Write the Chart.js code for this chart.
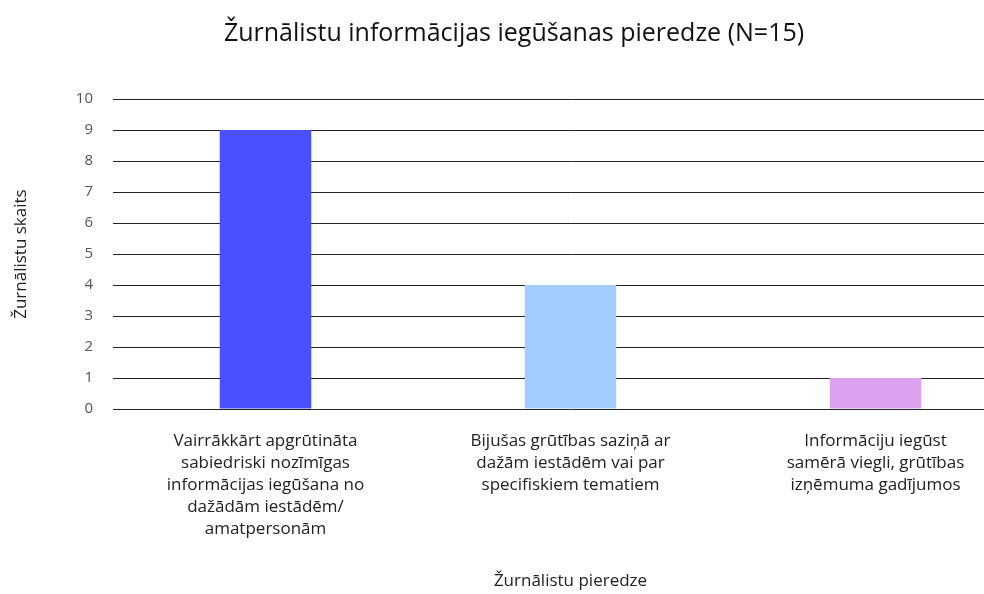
<!DOCTYPE html>
<html>
<head>
<meta charset="utf-8">
<script src="https://cdn.jsdelivr.net/npm/chart.js@4/dist/chart.umd.min.js"></script>
<style>
html, body { margin: 0; padding: 0; overflow: hidden; background: #fff; }
#wrap { position: relative; width: 1040px; height: 594px; }
</style>
</head>
<body>
<div id="wrap"><canvas id="c"></canvas></div>
<script>
const chartTitle = "Žurnālistu informācijas iegūšanas pieredze (N=15)";
const xAxisTitle = "Žurnālistu pieredze";
const yAxisTitle = "Žurnālistu skaits";
const categories = [
  ["Vairrākkārt apgrūtināta", "sabiedriski nozīmīgas", "informācijas iegūšana no", "dažādām iestādēm/", "amatpersonām"],
  ["Bijušas grūtības saziņā ar", "dažām iestādēm vai par", "specifiskiem tematiem"],
  ["Informāciju iegūst", "samērā viegli, grūtības", "izņēmuma gadījumos"]
];
const values = [9, 4, 1];
const barColors = ["#4a50ff", "#a4cdff", "#dca2ef"];
const yTicks = [0, 1, 2, 3, 4, 5, 6, 7, 8, 9, 10];

const FONT = "'Open Sans', Lato, sans-serif";

new Chart(document.getElementById('c'), {
  type: 'bar',
  data: {
    labels: categories,
    datasets: [{
      data: values,
      backgroundColor: barColors,
      borderWidth: 0,
      categoryPercentage: 1,
      barPercentage: 0.3
    }]
  },
  options: {
    responsive: true,
    maintainAspectRatio: false,
    animation: false,
    layout: { padding: { top: 0, right: 12, bottom: 3, left: 0 } },
    plugins: {
      legend: { display: false },
      tooltip: { enabled: false },
      title: {
        display: true,
        text: chartTitle,
        color: '#111',
        font: { family: FONT, size: 25, weight: 'normal', lineHeight: 1.2 },
        padding: { top: 19, bottom: 50 }
      }
    },
    scales: {
      x: {
        grid: { display: false },
        border: { display: false },
        ticks: {
          color: '#222',
          font: { family: FONT, size: 17, lineHeight: 1.3 },
          padding: 13,
          maxRotation: 0,
          autoSkip: false
        },
        title: {
          display: true,
          text: xAxisTitle,
          color: '#222',
          font: { family: FONT, size: 17 },
          padding: { top: 17, bottom: 0 }
        }
      },
      y: {
        min: 0,
        max: 10,
        afterFit: s => { s.width = 113; },
        afterBuildTicks: s => { s.ticks = yTicks.map(v => ({ value: v })); },
        grid: { color: '#222', lineWidth: 1, drawTicks: false },
        border: { display: false },
        ticks: {
          color: '#555',
          font: { family: FONT, size: 15 },
          padding: 20
        },
        title: {
          display: true,
          text: yAxisTitle,
          color: '#222',
          font: { family: FONT, size: 17 },
          padding: { top: 11, bottom: 0 }
        }
      }
    }
  }
});
</script>
</body>
</html>
